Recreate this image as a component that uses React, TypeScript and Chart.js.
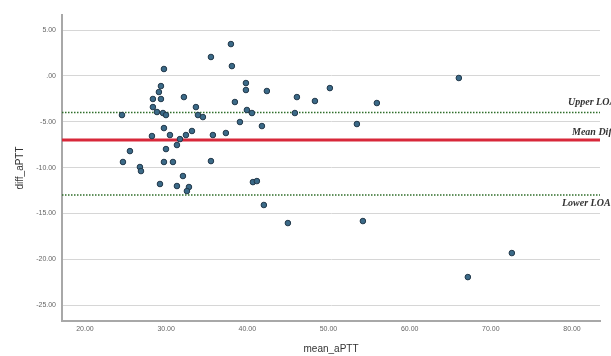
import React, { useEffect, useRef } from "react";
import { Chart, registerables } from "chart.js";

Chart.register(...registerables);

// mean_aPTT (x) values of the points
const meanAPTT = [
  24.56, 25.54, 24.68, 26.77, 26.9, 29.73, 29.36, 29.11, 28.37, 29.36,
  28.37, 28.87, 29.61, 29.98, 32.19, 33.67, 33.92, 34.53, 29.73, 33.18,
  28.25, 30.47, 32.44, 31.7, 31.33, 29.98, 29.73, 30.84, 32.07, 29.24,
  31.33, 32.81, 32.56, 35.52, 35.52, 37.98, 38.1, 39.83, 39.83, 42.41,
  46.11, 48.33, 50.17, 55.96, 38.47, 39.95, 40.57, 45.86, 39.09, 41.8,
  53.5, 35.76, 37.36, 40.69, 41.18, 42.04, 45.0, 54.24, 66.06, 72.59,
  67.17,
];
// diff_aPTT (y) values of the points
const diffAPTT = [
  -4.27, -8.2, -9.39, -9.94, -10.38, 0.75, -1.11, -1.76, -2.52, -2.52,
  -3.4, -3.94, -4.05, -4.27, -2.31, -3.4, -4.27, -4.49, -5.69, -6.01,
  -6.56, -6.45, -6.45, -6.89, -7.54, -7.98, -9.39, -9.39, -10.92, -11.79,
  -12.01, -12.12, -12.56, -9.29, 2.06, 3.47, 1.07, -0.78, -1.54, -1.65,
  -2.31, -2.74, -1.33, -2.96, -2.85, -3.72, -4.05, -4.05, -5.03, -5.47,
  -5.25, -6.45, -6.23, -11.58, -11.47, -14.08, -16.05, -15.83, -0.23, -19.32,
  -21.94,
];

const upperLOA = -4.0;
const meanDiff = -7.0;
const lowerLOA = -13.0;
const refLabels = ["Upper LOA", "Mean Diff", "Lower LOA"];

const xTicks = [20, 30, 40, 50, 60, 70, 80];
const yTicks = [-25, -20, -15, -10, -5, 0, 5];
const xRange = [17.17, 83.45];
const yRange = [-26.73, 6.64];

const fmt = (v: number) => (v === 0 ? ".00" : v.toFixed(2));

export default function App() {
  const ref = useRef<HTMLCanvasElement>(null);

  useEffect(() => {
    if (!ref.current) return;
    const hLine = (y: number) => [
      { x: xRange[0], y },
      { x: xRange[1], y },
    ];

    const labelPlugin = {
      id: "loaLabels",
      afterDatasetsDraw(chart: any) {
        const { ctx, chartArea, scales } = chart;
        const ys = scales.y;
        ctx.save();
        ctx.font = "italic bold 10px 'Liberation Serif', serif";
        ctx.fillStyle = "#333";
        ctx.textBaseline = "alphabetic";
        ctx.textAlign = "left";
        ctx.fillText(refLabels[0], chartArea.right - 32, ys.getPixelForValue(upperLOA) - 8);
        ctx.fillText(refLabels[1], chartArea.right - 28, ys.getPixelForValue(meanDiff) - 5);
        ctx.fillText(refLabels[2], chartArea.right - 38, ys.getPixelForValue(lowerLOA) + 11);
        ctx.restore();
      },
    };

    const chart = new Chart(ref.current, {
      type: "scatter",
      data: {
        datasets: [
          {
            type: "scatter",
            data: meanAPTT.map((x, i) => ({ x, y: diffAPTT[i] })),
            backgroundColor: "#3b6a88",
            borderColor: "#22384a",
            borderWidth: 1,
            pointRadius: 2.8,
            order: 0,
          },
          {
            type: "line",
            data: hLine(upperLOA),
            borderColor: "#2f6e2a",
            borderWidth: 1.5,
            borderDash: [1.5, 1.5],
            pointRadius: 0,
            order: 1,
          },
          {
            type: "line",
            data: hLine(meanDiff),
            borderColor: "#d8283a",
            borderWidth: 3,
            pointRadius: 0,
            order: 1,
          },
          {
            type: "line",
            data: hLine(lowerLOA),
            borderColor: "#2f6e2a",
            borderWidth: 1.5,
            borderDash: [1.5, 1.5],
            pointRadius: 0,
            order: 1,
          },
        ] as any,
      },
      options: {
        animation: false,
        responsive: false,
        layout: { padding: { left: 0, right: 11, top: 15, bottom: 0 } },
        plugins: {
          legend: { display: false },
          tooltip: { enabled: false },
        },
        scales: {
          x: {
            type: "linear",
            min: xRange[0],
            max: xRange[1],
            afterBuildTicks: (s: any) => {
              s.ticks = xTicks.map((v) => ({ value: v }));
            },
            afterFit: (s: any) => {
              s.height = 35;
            },
            grid: { display: false, drawTicks: false },
            border: { display: true, color: "#a8a8a8", width: 2 },
            ticks: {
              callback: (v: any) => fmt(Number(v)),
              font: { size: 7, family: "'Liberation Sans', Arial, sans-serif" },
              color: "#666",
              padding: 4,
              maxRotation: 0,
            },
            title: {
              display: true,
              text: "mean_aPTT",
              font: { size: 10, family: "'Liberation Sans', Arial, sans-serif" },
              color: "#333",
              padding: { top: 0, bottom: 1 },
            },
          },
          y: {
            type: "linear",
            min: yRange[0],
            max: yRange[1],
            afterBuildTicks: (s: any) => {
              s.ticks = yTicks.map((v) => ({ value: v }));
            },
            afterFit: (s: any) => {
              s.width = 62;
            },
            grid: { color: "#d6d6d6", lineWidth: 1, drawTicks: false },
            border: { display: true, color: "#a8a8a8", width: 2 },
            ticks: {
              callback: (v: any) => fmt(Number(v)),
              font: { size: 7, family: "'Liberation Sans', Arial, sans-serif" },
              color: "#666",
              padding: 6,
            },
            title: {
              display: true,
              text: "diff_aPTT",
              font: { size: 10, family: "'Liberation Sans', Arial, sans-serif" },
              color: "#333",
              padding: { top: 14, bottom: 0 },
            },
          },
        },
      },
      plugins: [labelPlugin],
    });
    return () => chart.destroy();
  }, []);

  return (
    <div style={{ position: "fixed", left: 0, top: 0, width: 611, height: 356, background: "#fff" }}>
      <canvas ref={ref} width={611} height={356} />
    </div>
  );
}
